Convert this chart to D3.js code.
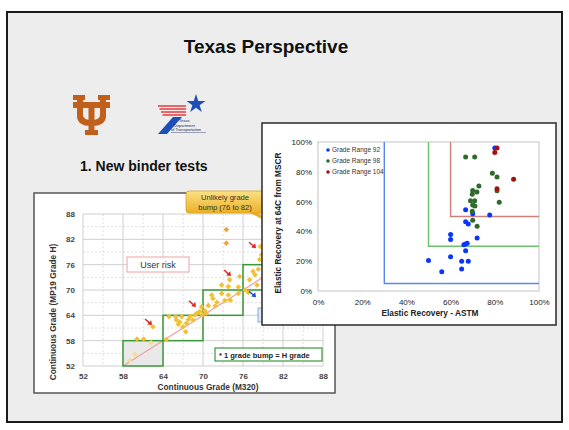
<!DOCTYPE html>
<html>
<head>
<meta charset="utf-8">
<script src="https://cdn.jsdelivr.net/npm/d3@7"></script>
<style>
  body { margin: 0; background: #fff; }
  svg { display: block; font-family: "Liberation Sans", Arial, sans-serif; }
</style>
</head>
<body>
<svg id="svg" width="569" height="430"></svg>
<script>
// ----- Data: left chart (continuous grade M320 vs MP19 grade H) -----
const gradeTicks = [52, 58, 64, 70, 76, 82, 88];
const gradeMinor = [55, 61, 67, 73, 79, 85];

const goldX = [60.1, 61.1, 62.5, 64.5, 64.9, 65.9, 66.0, 66.3, 66.5, 66.8, 67.0, 67.4, 67.5, 67.8,
  68.1, 68.5, 68.8, 69.1, 69.5, 69.8, 69.9, 70.3, 70.5, 70.8, 71.3, 71.5, 71.8, 72.1, 72.8, 72.8,
  73.3, 73.8, 74.0, 74.1, 73.8, 75.3, 75.5, 75.3, 76.3, 76.8, 77.0, 77.5, 77.8, 78.3, 78.1, 78.5,
  78.6, 78.8];
const goldY = [58.4, 58.4, 61.3, 58.3, 63.7, 63.7, 62.9, 61.9, 62.4, 63.7, 61.3, 60.1, 62.1, 63.0,
  63.8, 62.9, 64.1, 64.5, 64.9, 66.0, 64.1, 65.1, 64.5, 66.3, 68.8, 68.0, 66.2, 67.1, 69.2, 71.2,
  67.5, 70.8, 72.4, 67.6, 68.8, 69.2, 73.2, 70.7, 70.0, 69.4, 72.4, 74.4, 73.6, 74.9, 71.2, 77.2,
  80.3, 78.3];
const paleX = [59.0, 59.75, 62.2];
const paleY = [53.3, 54.8, 57.5];
const orangeX = [73.5, 73.5];
const orangeY = [84.3, 81.1];

// grade boxes: lower-left corners, each 6 grades wide
const boxX0 = [58, 64, 70, 76, 82];
const boxY0 = [52, 58, 64, 70, 76];
const boxSize = 6;

// annotation arrows (tip, in grade units)
const redArrowX = [62.35, 68.95, 74.2, 77.95];
const redArrowY = [61.7, 66.0, 73.3, 79.9];
const blueArrowX = [77.95];
const blueArrowY = [68.3];

// ----- Data: right chart (elastic recovery) -----
const pctTicks = [0, 0.2, 0.4, 0.6, 0.8, 1.0];
const seriesNames = ["Grade Range 92", "Grade Range 98", "Grade Range 104"];
const g92X = [0.50, 0.56, 0.60, 0.60, 0.60, 0.65, 0.65, 0.66, 0.668, 0.675, 0.668, 0.668, 0.668,
  0.68, 0.68, 0.72, 0.70, 0.777, 0.80];
const g92Y = [0.205, 0.13, 0.38, 0.345, 0.23, 0.20, 0.148, 0.31, 0.315, 0.32, 0.27, 0.545, 0.465,
  0.45, 0.20, 0.355, 0.518, 0.51, 0.96];
const g98X = [0.668, 0.709, 0.789, 0.81, 0.728, 0.70, 0.698, 0.719, 0.69, 0.709, 0.70, 0.71,
  0.698, 0.70, 0.72, 0.82, 0.81];
const g98Y = [0.90, 0.90, 0.79, 0.765, 0.705, 0.675, 0.65, 0.665, 0.605, 0.605, 0.578, 0.57,
  0.535, 0.475, 0.435, 0.595, 0.672];
const g104X = [0.81, 0.80, 0.885, 0.81];
const g104Y = [0.96, 0.93, 0.75, 0.686];
// threshold corners per grade range
const thrX = [0.30, 0.50, 0.60];
const thrY = [0.05, 0.30, 0.50];

const svg = d3.select("#svg");

// ----- Slide background -----
svg.append("rect")
  .attr("x", 7).attr("y", 12).attr("width", 555).attr("height", 410)
  .attr("fill", "#ededed").attr("stroke", "#1a1a1a").attr("stroke-width", 2);

svg.append("text")
  .attr("x", 266).attr("y", 53)
  .attr("text-anchor", "middle")
  .attr("font-size", 19).attr("font-weight", "bold").attr("fill", "#111")
  .text("Texas Perspective");

// ----- Logos (rough) -----
const ut = svg.append("g").attr("transform", "translate(73,95)").attr("fill", "#c1601c");
ut.append("rect").attr("x", 0).attr("y", 0).attr("width", 12).attr("height", 5);
ut.append("rect").attr("x", 25).attr("y", 0).attr("width", 12).attr("height", 5);
ut.append("rect").attr("x", 0).attr("y", 7).attr("width", 37).attr("height", 6);
ut.append("path")
  .attr("d", "M4,4 H10 V20 Q10,25 18.5,25 Q27,25 27,20 V4 H33 V21 Q33,31 18.5,31 Q4,31 4,21 Z");
ut.append("rect").attr("x", 15.5).attr("y", 7).attr("width", 6).attr("height", 29);
ut.append("rect").attr("x", 12).attr("y", 35).attr("width", 13).attr("height", 5);

const tx = svg.append("g");
[106, 109, 112, 115].forEach((yy, i) => {
  tx.append("line")
    .attr("x1", 158 + i * 1.5).attr("x2", 186)
    .attr("y1", yy).attr("y2", yy)
    .attr("stroke", "#e5474a").attr("stroke-width", 1.6);
});
tx.append("path")
  .attr("d", d3.symbol(d3.symbolStar, 110)())
  .attr("transform", "translate(196,104)")
  .attr("fill", "#1d4fb8");
tx.append("path")
  .attr("d", "M158,134 L167,134 L182,117 L173,117 Z")
  .attr("fill", "#1d4fb8");
[["Texas", 179, 122], ["Department", 174, 126.5], ["of Transportation", 171, 131]].forEach(t => {
  tx.append("text").attr("x", t[1]).attr("y", t[2])
    .attr("font-size", 4).attr("fill", "#1a2a55").text(t[0]);
});
tx.append("line").attr("x1", 171).attr("x2", 206).attr("y1", 132.5).attr("y2", 132.5)
  .attr("stroke", "#1a2a55").attr("stroke-width", 0.4);

svg.append("text")
  .attr("x", 80).attr("y", 171)
  .attr("font-size", 14).attr("font-weight", "bold").attr("fill", "#111")
  .text("1. New binder tests");

// ----- Left chart -----
const left = svg.append("g");
left.append("rect")
  .attr("x", 34).attr("y", 193).attr("width", 301).attr("height", 200)
  .attr("fill", "#fff").attr("stroke", "#555").attr("stroke-width", 1.5);

const xL = d3.scaleLinear().domain([52, 88]).range([83, 323]);
const yL = d3.scaleLinear().domain([52, 88]).range([366, 214]);

// grid
left.selectAll(".vminor").data(gradeMinor).enter().append("line")
  .attr("x1", d => xL(d)).attr("x2", d => xL(d)).attr("y1", yL(88)).attr("y2", yL(52))
  .attr("stroke", "#dedede").attr("stroke-dasharray", "2,2");
left.selectAll(".hminor").data(gradeMinor).enter().append("line")
  .attr("y1", d => yL(d)).attr("y2", d => yL(d)).attr("x1", xL(52)).attr("x2", xL(88))
  .attr("stroke", "#dedede").attr("stroke-dasharray", "2,2");
left.selectAll(".vmajor").data(gradeTicks).enter().append("line")
  .attr("x1", d => xL(d)).attr("x2", d => xL(d)).attr("y1", yL(88)).attr("y2", yL(52))
  .attr("stroke", "#cfcfcf");
left.selectAll(".hmajor").data(gradeTicks).enter().append("line")
  .attr("y1", d => yL(d)).attr("y2", d => yL(d)).attr("x1", xL(52)).attr("x2", xL(88))
  .attr("stroke", "#cfcfcf");

// grey first box
left.append("rect")
  .attr("x", xL(boxX0[0])).attr("y", yL(boxY0[0] + boxSize))
  .attr("width", xL(boxX0[0] + boxSize) - xL(boxX0[0]))
  .attr("height", yL(boxY0[0]) - yL(boxY0[0] + boxSize))
  .attr("fill", "#e9e9e9");

// diagonal y = x - 6
left.append("line")
  .attr("x1", xL(58)).attr("y1", yL(52)).attr("x2", xL(88)).attr("y2", yL(82))
  .attr("stroke", "#f0a0a0").attr("stroke-width", 1.2);

// green boxes
left.selectAll(".gbox").data(boxX0).enter().append("rect")
  .attr("x", d => xL(d))
  .attr("y", (d, i) => yL(boxY0[i] + boxSize))
  .attr("width", d => xL(d + boxSize) - xL(d))
  .attr("height", (d, i) => yL(boxY0[i]) - yL(boxY0[i] + boxSize))
  .attr("fill", "none").attr("stroke", "#3a9a3a").attr("stroke-width", 1.5);

// points
const diamond = d3.symbol(d3.symbolDiamond2, 20);
function drawPts(xs, ys, fill) {
  left.append("g").selectAll("path").data(xs).enter().append("path")
    .attr("d", diamond)
    .attr("transform", (d, i) => `translate(${xL(d)},${yL(ys[i])})`)
    .attr("fill", fill);
}
drawPts(paleX, paleY, "#f3dc9a");
drawPts(goldX, goldY, "#f2c034");
drawPts(orangeX, orangeY, "#f2a33a");

// arrows
function drawArrows(xs, ys, color) {
  xs.forEach((d, i) => {
    const tx0 = xL(d), ty0 = yL(ys[i]);
    left.append("line")
      .attr("x1", tx0 - 7).attr("y1", ty0 - 6).attr("x2", tx0 - 2).attr("y2", ty0 - 1.7)
      .attr("stroke", color).attr("stroke-width", 1.4);
    left.append("path")
      .attr("d", `M${tx0},${ty0} L${tx0 - 4.8},${ty0 - 0.6} L${tx0 - 0.8},${ty0 - 4.9} Z`)
      .attr("fill", color);
  });
}
drawArrows(redArrowX, redArrowY, "#e62222");
drawArrows(blueArrowX, blueArrowY, "#2446d6");

// axes
const axL = left.append("g").attr("transform", `translate(0,${yL(52)})`)
  .call(d3.axisBottom(xL).tickValues(gradeTicks).tickSize(0).tickPadding(7));
const ayL = left.append("g").attr("transform", `translate(${xL(52)},0)`)
  .call(d3.axisLeft(yL).tickValues(gradeTicks).tickSize(0).tickPadding(8));
[axL, ayL].forEach(a => {
  a.select(".domain").remove();
  a.selectAll("text").attr("font-size", 8).attr("font-weight", "bold")
    .attr("fill", "#444").attr("font-family", "Liberation Sans, Arial, sans-serif");
});
left.append("text")
  .attr("x", 208).attr("y", 390)
  .attr("text-anchor", "middle").attr("font-size", 8.3).attr("font-weight", "bold").attr("fill", "#333")
  .text("Continuous Grade (M320)");
left.append("text")
  .attr("transform", "translate(56,312) rotate(-90)")
  .attr("text-anchor", "middle").attr("font-size", 8.3).attr("font-weight", "bold").attr("fill", "#333")
  .text("Continuous Grade (MP19 Grade H)");

// labels inside left chart
left.append("rect")
  .attr("x", 127).attr("y", 257).attr("width", 62).attr("height", 15)
  .attr("fill", "#fff").attr("stroke", "#f0a4a4");
left.append("text")
  .attr("x", 158).attr("y", 268).attr("text-anchor", "middle")
  .attr("font-size", 9).attr("fill", "#333").text("User risk");

left.append("rect")
  .attr("x", 258).attr("y", 308).attr("width", 30).attr("height", 14)
  .attr("fill", "#dfe6f8").attr("stroke", "#90a6e0");

left.append("rect")
  .attr("x", 215).attr("y", 348).attr("width", 107).attr("height", 13)
  .attr("fill", "#fff").attr("stroke", "#3a9a3a").attr("stroke-width", 1.2);
left.append("text")
  .attr("x", 219).attr("y", 357.5)
  .attr("font-size", 7.5).attr("font-weight", "bold").attr("fill", "#222")
  .text("* 1 grade bump = H grade");

// callout
const defs = svg.append("defs");
const grad = defs.append("linearGradient").attr("id", "callGrad")
  .attr("x1", 0).attr("y1", 0).attr("x2", 0).attr("y2", 1);
grad.append("stop").attr("offset", "0%").attr("stop-color", "#fbe185");
grad.append("stop").attr("offset", "100%").attr("stop-color", "#ebb027");
svg.append("path")
  .attr("d", "M248,212 L258,212 L266,221 Z")
  .attr("fill", "#ebb027");
svg.append("rect")
  .attr("x", 186).attr("y", 191).attr("width", 78).attr("height", 22).attr("rx", 3)
  .attr("fill", "url(#callGrad)").attr("stroke", "#d9a11c").attr("stroke-width", 0.8);
svg.append("text")
  .attr("x", 225).attr("y", 200).attr("text-anchor", "middle")
  .attr("font-size", 7.6).attr("fill", "#333").text("Unlikely grade");
svg.append("text")
  .attr("x", 225).attr("y", 209.5).attr("text-anchor", "middle")
  .attr("font-size", 7.6).attr("fill", "#333").text("bump (76 to 82)");

// ----- Right chart -----
const right = svg.append("g");
right.append("rect")
  .attr("x", 262).attr("y", 123).attr("width", 294).attr("height", 202)
  .attr("fill", "#fff").attr("stroke", "#2a2a2a").attr("stroke-width", 1.5);

const xR = d3.scaleLinear().domain([0, 1]).range([318, 539]);
const yR = d3.scaleLinear().domain([0, 1]).range([291, 142]);

right.append("rect")
  .attr("x", xR(0)).attr("y", yR(1))
  .attr("width", xR(1) - xR(0)).attr("height", yR(0) - yR(1))
  .attr("fill", "#fff").attr("stroke", "#c4c4c4").attr("stroke-width", 1);

const seriesColor = ["#0a35ff", "#2f6b2a", "#a31212"];
const thrColor = ["#5a86f5", "#6cc26c", "#cc8078"];
thrX.forEach((d, i) => {
  right.append("path")
    .attr("d", `M${xR(d)},${yR(1)} V${yR(thrY[i])} H${xR(1)}`)
    .attr("fill", "none").attr("stroke", thrColor[i]).attr("stroke-width", 1.4);
});

const seriesX = [g92X, g98X, g104X];
const seriesY = [g92Y, g98Y, g104Y];
seriesX.forEach((xs, s) => {
  right.append("g").selectAll("circle").data(xs).enter().append("circle")
    .attr("cx", d => xR(d))
    .attr("cy", (d, i) => yR(seriesY[s][i]))
    .attr("r", 2.5)
    .attr("fill", seriesColor[s]);
});

// legend
seriesNames.forEach((n, i) => {
  const ly = 150 + i * 11;
  right.append("circle").attr("cx", 328).attr("cy", ly).attr("r", 1.8).attr("fill", seriesColor[i]);
  right.append("text").attr("x", 332).attr("y", ly + 2.3)
    .attr("font-size", 6.5).attr("fill", "#333").text(n);
});

const axR = right.append("g").attr("transform", `translate(0,${yR(0)})`)
  .call(d3.axisBottom(xR).tickValues(pctTicks).tickFormat(d3.format(".0%")).tickSize(0).tickPadding(8));
const ayR = right.append("g").attr("transform", `translate(${xR(0)},0)`)
  .call(d3.axisLeft(yR).tickValues(pctTicks).tickFormat(d3.format(".0%")).tickSize(0).tickPadding(6));
[axR, ayR].forEach(a => {
  a.select(".domain").remove();
  a.selectAll("text").attr("font-size", 8).attr("fill", "#222")
    .attr("font-family", "Liberation Sans, Arial, sans-serif");
});
right.append("text")
  .attr("x", 430).attr("y", 316).attr("text-anchor", "middle")
  .attr("font-size", 8.3).attr("font-weight", "bold").attr("fill", "#222")
  .text("Elastic Recovery - ASTM");
right.append("text")
  .attr("transform", "translate(281,223) rotate(-90)")
  .attr("text-anchor", "middle")
  .attr("font-size", 8.3).attr("font-weight", "bold").attr("fill", "#222")
  .text("Elastic Recovery at 64C from MSCR");
</script>
</body>
</html>
